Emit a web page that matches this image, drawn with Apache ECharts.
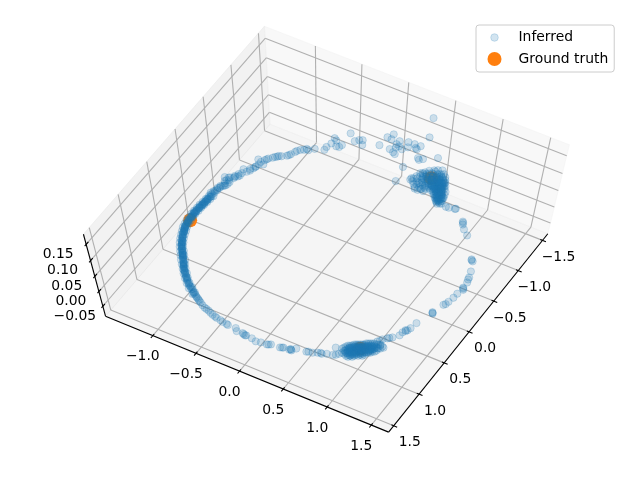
<!DOCTYPE html>
<html><head><meta charset="utf-8">
<style>html,body{margin:0;padding:0;background:#fff}#c{width:640px;height:480px}</style>
<script src="https://cdn.jsdelivr.net/npm/echarts@6/dist/echarts.min.js"></script>
</head><body><div id="c"></div>
<script>
// Axis limits and ticks
const xLim=[-1.61,1.60], yLim=[-1.55,1.695], zLim=[-0.085,0.18];
const xTicks=[-1.5,-1,-0.5,0,0.5,1,1.5];
const yTicks=[-1,-0.5,0,0.5,1,1.5];
const zTicks=[-0.05,0,0.05,0.1,0.15];
const xTickLabels=['\u22121.5','\u22121.0','\u22120.5','0.0','0.5','1.0','1.5'];
const yTickLabels=['\u22121.0','\u22120.5','0.0','0.5','1.0','1.5'];
const zTickLabels=['\u22120.05','0.00','0.05','0.10','0.15'];
const seriesNames=['Inferred','Ground truth'];
const truthPoints=[[0.314,-1.297,0],[1.023,1.03,0],[-1.369,0.449,0]];
// Inferred points, [x,y] near the ring plane (z read as about 0)
const ringHeight=0;
const arcLeft=[[1.208,-.672],[1.19,-.70],[1.175,-.72],[1.167,-.739],[1.15,-.755],[1.13,-.79],[1.125,-.78],[1.11,-.81],[1.094,-.838],[1.08,-.85],[1.07,-.86],[1.05,-.885],[1.04,-.89],[1.02,-.915],[1.0,-.93],[.985,-.945],[.97,-.96],[.96,-.965],[.938,-.985],[.92,-1.0],[.905,-1.01],[.88,-1.03],[.865,-1.04],[.85,-1.05],[.83,-1.065],[.815,-1.075],[.80,-1.085],[.785,-1.095],[.768,-1.108],[.75,-1.12],[.735,-1.13],[.715,-1.15],[.70,-1.16],[.685,-1.165],[.67,-1.18],[.65,-1.19],[.63,-1.20],[.61,-1.21],[.593,-1.222],[.575,-1.23],[.555,-1.24],[.54,-1.245],[.525,-1.25],[.50,-1.265],[.485,-1.27],[.47,-1.27],[.45,-1.28],[.43,-1.29],[.41,-1.295],[.39,-1.30],[.375,-1.30],[.35,-1.305],[.33,-1.31],[.31,-1.31],[.29,-1.31],[.27,-1.315],[.25,-1.31],[.23,-1.32],[.21,-1.315],[.19,-1.32],[.17,-1.31],[.15,-1.315],[.131,-1.312],[.11,-1.31],[.09,-1.31],[.07,-1.31],[.05,-1.305],[.03,-1.31],[.01,-1.30],[-.015,-1.30],[-.037,-1.298],[-.06,-1.30],[-.08,-1.29],[-.10,-1.31],[-.119,-1.324],[-.14,-1.29],[-.16,-1.30],[-.18,-1.285],[-.212,-1.30],[-.239,-1.281],[-.26,-1.27],[-.308,-1.243],[1.2,-.69],[1.16,-.75],[1.10,-.82],[1.03,-.90],[.95,-.975],[.87,-1.035],[.79,-1.09],[.72,-1.14],[.64,-1.195],[.56,-1.235],[.48,-1.265],[.40,-1.295],[.32,-1.315],[.24,-1.305],[.16,-1.32],[.08,-1.30],[.00,-1.305],[-.07,-1.295],[-.15,-1.31],[-.22,-1.285],[.90,-1.02],[.76,-1.115],[.62,-1.205],[.46,-1.275],[.34,-1.30],[.20,-1.31],[.10,-1.32],[.04,-1.30],[-.03,-1.31],[-.11,-1.30],[-.19,-1.295],[-.25,-1.29],[-.28,-1.25]];
const arcLeftOuter=[[1.15,-.74],[1.10,-.80],[1.06,-.855],[1.01,-.905],[.96,-.945],[.91,-.99],[.86,-1.025],[.81,-1.055],[.76,-1.095],[.71,-1.13],[.66,-1.17],[.61,-1.195],[.56,-1.22],[.51,-1.24],[.46,-1.255],[.41,-1.275],[.36,-1.285],[.31,-1.29],[.26,-1.295],[.21,-1.30],[.16,-1.295],[.11,-1.295],[.06,-1.29],[.01,-1.285],[-.04,-1.28],[-.09,-1.275]];
const arcLeftInner=[[1.18,-.75],[1.13,-.82],[1.08,-.875],[1.03,-.925],[.98,-.97],[.93,-1.01],[.88,-1.05],[.83,-1.09],[.78,-1.125],[.73,-1.16],[.68,-1.195],[.63,-1.225],[.58,-1.25],[.53,-1.27],[.48,-1.29],[.43,-1.31],[.38,-1.32],[.33,-1.33],[.28,-1.33],[.23,-1.335],[.18,-1.335],[.13,-1.33],[.08,-1.33],[.03,-1.325],[-.02,-1.32],[-.07,-1.315]];
const arcLeftMiddle=[[.94,-.99],[.85,-1.045],[.77,-1.105],[.69,-1.16],[.60,-1.215],[.52,-1.26],[.44,-1.285],[.36,-1.305],[.28,-1.31],[.20,-1.32],[.12,-1.31],[.06,-1.31],[-.02,-1.30],[1.01,-.92],[.89,-1.025],[.74,-1.125],[.66,-1.185],[.42,-1.29],[.26,-1.315],[.18,-1.31],[.02,-1.305]];
const arcTop=[[-.378,-1.318],[-.409,-1.235],[-.36,-1.26],[-.33,-1.29],[-.40,-1.27],[-.481,-1.222],[-.47,-1.20],[-.44,-1.24],[-.565,-1.215],[-.55,-1.17],[-.625,-1.137],[-.60,-1.16],[-.66,-1.13],[-.721,-1.081],[-.757,-1.16],[-.74,-1.12],[-.70,-1.12],[-.817,-1.081],[-.80,-1.09],[-.884,-1.019],[-.87,-1.035],[-.91,-.985],[-.944,-.942],[-.96,-.93],[-1.052,-.892],[-1.03,-.90],[-1.124,-.822],[-1.10,-.84],[-1.115,-.80],[-1.163,-.755],[-1.199,-.665],[-1.244,-.668],[-.35,-1.28],[-.43,-1.23],[-.51,-1.20],[-.58,-1.15],[-.65,-1.13],[-.78,-1.10],[-.85,-1.05],[-.90,-1.01],[-.98,-.92],[-1.08,-.87],[-.30,-1.27],[-.27,-1.26],[-.34,-1.24],[-.39,-1.28],[-.45,-1.21]];
const arcUpper=[[-1.20,-.55,.045],[-1.12,-.54,.045],[-1.11,-.48,.045],[-1.15,-.44,.045],[-1.115,-.45,.045],[-1.18,-.52,.045],[-1.336,-.45,.045],[-1.26,-.36,.045],[-1.295,-.33,.045],[-1.25,-.27,.045],[-1.31,-.30,.045],[-1.33,-.124,.045],[-1.465,-.112,.045],[-1.531,-.08,.045],[-1.46,-.064,.045],[-1.424,.014,.045],[-1.475,.018,.045],[-1.331,-.01,.045],[-1.295,.067,.045],[-1.31,.04,.045],[-1.388,.092,.045],[-1.506,.10,.045],[-1.511,.165,.045],[-1.46,.218,.045],[-1.47,.20,.045],[-1.515,.23,.045],[-1.579,.306,.12],[-1.554,.297,.07],[-1.453,.458,.045],[-1.357,.29,.045],[-1.369,.339,.045],[-1.34,.31,.045],[-1.177,.226,.045],[-1.16,.167,0],[-1.41,.05,.045],[-1.38,.03,.045],[-1.44,.13,.045]];
const clusterUpperCore=[[-1.48,.42],[-1.50,.45],[-1.52,.49],[-1.43,.44],[-1.447,.474],[-1.465,.507],[-1.48,.53],[-1.386,.453],[-1.405,.486],[-1.42,.511],[-1.434,.537],[-1.449,.562],[-1.345,.465],[-1.36,.49],[-1.374,.516],[-1.389,.541],[-1.403,.566],[-1.413,.583],[-1.31,.486],[-1.324,.511],[-1.333,.528],[-1.348,.553],[-1.357,.57],[-1.372,.595],[-1.273,.507],[-1.283,.524],[-1.297,.549],[-1.307,.566],[-1.317,.583],[-1.331,.608],[-1.341,.625],[-1.242,.537],[-1.257,.562],[-1.271,.587],[-1.285,.612],[-1.30,.637],[-1.206,.558],[-1.221,.583],[-1.23,.60],[-1.24,.616],[-1.254,.642],[-1.269,.667],[-1.175,.587],[-1.189,.612],[-1.199,.629],[-1.213,.654],[-1.228,.679],[-1.144,.616],[-1.158,.642],[-1.173,.667],[-1.187,.692],[-1.113,.646],[-1.127,.671],[-1.141,.696],[-1.081,.675],[-1.096,.70],[-1.105,.717],[-1.29,.57],[-1.31,.60],[-1.32,.56],[-1.335,.59],[-1.26,.60],[-1.275,.625],[-1.25,.58],[-1.29,.595],[-1.225,.62],[-1.24,.60],[-1.21,.63],[-1.23,.65],[-1.19,.64],[-1.18,.62],[-1.20,.66],[-1.16,.65],[-1.15,.67],[-1.17,.69],[-1.125,.69],[-1.11,.68],[-1.35,.53],[-1.37,.56],[-1.385,.58],[-1.40,.52],[-1.355,.60],[-1.32,.62],[-1.30,.58],[-1.28,.56],[-1.26,.545],[-1.10,.66],[-1.135,.63]];
const clusterUpperExtra=[[-1.40,.50],[-1.38,.52],[-1.36,.54],[-1.34,.51],[-1.32,.54],[-1.30,.52],[-1.28,.54],[-1.26,.56],[-1.24,.58],[-1.22,.56],[-1.20,.60],[-1.18,.60],[-1.16,.62],[-1.30,.56],[-1.32,.58],[-1.34,.57],[-1.28,.60],[-1.26,.62],[-1.24,.63],[-1.22,.60],[-1.20,.62],[-1.18,.65],[-1.16,.68],[-1.14,.66],[-1.12,.66],[-1.36,.58],[-1.38,.60],[-1.42,.54],[-1.44,.52],[-1.46,.49],[-1.42,.48],[-1.39,.49],[-1.35,.47],[-1.33,.49],[-1.29,.50],[-1.27,.52],[-1.25,.55],[-1.30,.60],[-1.27,.58],[-1.23,.61],[-1.21,.65],[-1.19,.68],[-1.15,.64],[-1.13,.65],[-1.34,.55]];
const clusterUpperLobe=[[-1.242,.31],[-1.18,.369],[-1.321,.309],[-1.247,.374],[-1.376,.321],[-1.184,.433],[-1.326,.373],[-1.242,.422],[-1.412,.356],[-1.304,.419],[-1.208,.475],[-1.391,.402],[-1.283,.465],[-1.352,.447],[-1.22,.524],[-1.434,.422],[-1.278,.513],[-1.211,.339],[-1.273,.281],[-1.158,.415],[-1.379,.353],[-1.338,.422],[-1.30,.38],[-1.27,.40],[-1.24,.45],[-1.33,.46],[-1.39,.44],[-1.36,.40],[-1.30,.33],[-1.26,.35],[-1.22,.37],[-1.20,.41],[-1.22,.46],[-1.28,.44],[-1.32,.40],[-1.35,.37],[-1.37,.39],[-1.40,.38],[-1.42,.40],[-1.40,.45],[-1.36,.46],[-1.31,.44],[-1.26,.48],[-1.24,.50],[-1.29,.49],[-1.33,.43],[-1.25,.39],[-1.19,.44],[-1.17,.47],[-1.16,.38],[-1.28,.30],[-1.25,.28],[-1.34,.34],[-1.39,.34],[-1.45,.38],[-1.47,.44]];
const arcRight=[[-1.088,.773],[-1.091,.805],[-1.112,.871],[-1.105,.865],[-.989,1.02],[-.953,1.04],[-.975,1.03],[-.898,1.084],[-.84,1.152],[-.571,1.354],[-.56,1.36],[-.552,1.376],[-.422,1.43],[-.341,1.456],[-.312,1.461],[-.271,1.474],[-.179,1.482],[-.19,1.475],[-.165,1.49],[-.09,1.467],[-.023,1.462],[.049,1.448],[.109,1.426],[.09,1.44],[.258,1.39],[.25,1.385],[.265,1.395],[.455,1.325],[.543,1.31],[.582,1.299],[.591,1.282],[.60,1.29],[.63,1.271],[.68,1.267],[.738,1.222],[.774,1.186],[.76,1.20],[.81,1.151],[.858,1.123],[.84,1.14],[.901,1.216],[.88,1.17]];
const clusterLowerCore=[[1.109,.878],[1.157,.906],[1.088,.888],[1.124,.909],[1.16,.93],[1.066,.897],[1.102,.918],[1.138,.939],[1.174,.96],[1.045,.907],[1.081,.928],[1.117,.949],[1.153,.97],[1.177,.984],[1.035,.924],[1.059,.938],[1.095,.959],[1.131,.98],[1.155,.994],[1.025,.941],[1.061,.962],[1.097,.983],[1.133,1.004],[1.157,1.018],[1.004,.951],[1.04,.972],[1.076,.993],[1.10,1.007],[1.136,1.028],[.994,.967],[1.018,.981],[1.054,1.002],[1.09,1.023],[1.114,1.037],[.985,.984],[1.021,1.005],[1.057,1.026],[1.093,1.047],[1.117,1.061],[.975,1.001],[.999,1.015],[1.035,1.036],[1.071,1.057],[1.095,1.071],[.965,1.018],[1.001,1.039],[1.037,1.06],[1.073,1.081],[1.097,1.095],[.956,1.035],[.98,1.049],[1.016,1.07],[1.052,1.091],[1.076,1.105],[.934,1.044],[.97,1.065],[1.006,1.086],[1.042,1.107],[.925,1.061],[.961,1.082],[.997,1.103],[1.033,1.124],[.915,1.078],[.951,1.099],[.987,1.12],[1.023,1.141],[.905,1.095],[.941,1.116],[.977,1.137],[1.001,1.151],[.896,1.112],[.932,1.133],[.956,1.147],[.992,1.168],[.898,1.135],[.934,1.156],[.97,1.177],[.889,1.152],[.937,1.18],[.891,1.176],[.927,1.197],[.893,1.20],[1.05,1.02],[1.03,1.01],[1.065,1.04],[1.08,1.02],[1.01,1.03],[1.12,1.00],[1.10,.97],[.99,1.06],[1.02,1.10],[.96,1.10],[.95,1.07],[.98,1.13],[1.005,1.07],[1.06,1.07],[1.04,1.08]];
const clusterLowerExtra=[[1.00,.99],[1.03,.96],[1.07,.98],[1.11,.99],[1.05,.95],[1.08,.95],[1.13,.96],[1.02,.97],[1.06,1.0],[1.10,1.02],[1.04,1.03],[1.00,1.0],[.97,1.03],[1.01,1.05],[1.05,1.05],[1.08,1.06],[.98,1.07],[1.02,1.08],[.96,1.05],[1.00,1.11],[.97,1.09],[.94,1.09],[1.01,1.12],[.98,1.10],[.95,1.12],[.92,1.12],[.96,1.14],[1.0,1.13],[.93,1.15],[.94,1.17],[1.07,.94],[1.10,.94],[1.12,.92],[1.14,.95],[1.03,.99],[1.06,1.01],[1.09,1.00],[1.12,1.02],[1.15,.99],[1.06,.93],[1.04,1.0],[1.02,1.02],[.99,1.04],[1.03,1.05],[1.0,1.08],[1.04,1.1],[.97,1.12],[.93,1.10],[1.08,.99],[1.11,.97]];
const arcBottom=[[1.127,.819],[1.225,.844],[1.184,.888],[1.211,.869],[1.242,.787],[1.266,.744],[1.26,.73],[1.273,.703],[1.297,.661],[1.304,.62],[1.314,.603],[1.326,.498],[1.371,.446],[1.363,.46],[1.358,.455],[1.37,.47],[1.381,.373],[1.375,.385],[1.39,.355],[1.398,.259],[1.417,.225],[1.41,.24],[1.422,.161],[1.434,.111],[1.417,.057],[1.407,-.039],[1.415,-.02],[1.40,-.055],[1.41,-.01],[1.405,-.119],[1.374,-.148],[1.369,-.253],[1.375,-.235],[1.364,-.301],[1.355,-.33],[1.345,-.379],[1.338,-.40],[1.328,-.434],[1.315,-.465],[1.299,-.496],[1.29,-.525],[1.283,-.55],[1.265,-.585],[1.242,-.619],[1.23,-.64],[1.22,-.655]];
const inferredPoints=[...arcBottom,...arcLeft,...arcLeftOuter,...arcLeftInner,...arcLeftMiddle,...arcTop,...arcUpper,...clusterUpperLobe,...clusterUpperCore,...clusterUpperExtra,...arcRight,...clusterLowerCore,...clusterLowerExtra];

// Matplotlib-style camera
const elev=70*Math.PI/180, azim=30*Math.PI/180, dist=10;
const n=[Math.cos(elev)*Math.cos(azim),Math.cos(elev)*Math.sin(azim),Math.sin(elev)];
const u=[-Math.sin(azim),Math.cos(azim),0];
const v=[-Math.sin(elev)*Math.cos(azim),-Math.sin(elev)*Math.sin(azim),Math.cos(elev)];
const dot=(a,b)=>a[0]*b[0]+a[1]*b[1]+a[2]*b[2];
function project(x,y,z){
  const p=[(x-xLim[0])/(xLim[1]-xLim[0])-.5,(y-yLim[0])/(yLim[1]-yLim[0])-.5,(z-zLim[0])/(zLim[1]-zLim[0])-.5];
  const w=dist-dot(n,p);
  return [dot(u,p)/w,dot(v,p)/w];
}
const scaleX=3390, scaleY=2495, centerX=328, centerY=234;

const [x0,x1]=xLim,[y0,y1]=yLim,[z0,z1]=zLim;
const panes=[
 {c:'rgba(236,236,236,0.5)',p:[[x0,y0,z0],[x1,y0,z0],[x1,y1,z0],[x0,y1,z0]]},
 {c:'rgba(230,230,230,0.5)',p:[[x0,y0,z0],[x1,y0,z0],[x1,y0,z1],[x0,y0,z1]]},
 {c:'rgba(242,242,242,0.5)',p:[[x0,y0,z0],[x0,y1,z0],[x0,y1,z1],[x0,y0,z1]]}
];
const segs=[];
const grid=(a,b)=>segs.push([a,b,'#b0b0b0',1.1]);
const ink=(a,b)=>segs.push([a,b,'#000',1.1]);
xTicks.forEach(x=>{grid([x,y0,z0],[x,y1,z0]);grid([x,y0,z0],[x,y0,z1]);});
yTicks.forEach(y=>{grid([x0,y,z0],[x1,y,z0]);grid([x0,y,z0],[x0,y,z1]);});
zTicks.forEach(z=>{grid([x1,y0,z],[x0,y0,z]);grid([x0,y0,z],[x0,y1,z]);});
ink([x1,y0,z0],[x1,y1,z0]);ink([x1,y1,z0],[x0,y1,z0]);ink([x1,y0,z0],[x1,y0,z1]);
const dx=x1-x0,dy=y1-y0;
xTicks.forEach(x=>ink([x,y1-.008*dy,z0],[x,y1+.012*dy,z0]));
yTicks.forEach(y=>ink([x1-.008*dx,y,z0],[x1+.012*dx,y,z0]));
zTicks.forEach(z=>ink([x1-.012*dx,y0,z],[x1+.008*dx,y0,z]));
const labels=[];
xTicks.forEach((x,i)=>labels.push([[x,y1,z0],xTickLabels[i],16,17]));
yTicks.forEach((y,i)=>labels.push([[x1,y,z0],yTickLabels[i],-10,21]));
zTicks.forEach((z,i)=>labels.push([[x1,y0,z],zTickLabels[i],-28,10]));

const circleIcon=r=>`path://M0,0L0,0M14,14L14,14M${7-r},7A${r},${r},0,1,1,${7+r},7A${r},${r},0,1,1,${7-r},7Z`;
const chart=echarts.init(document.getElementById('c'),null,{renderer:'canvas'});
chart.setOption({
 animation:false,
 backgroundColor:'#fff',
 grid:{left:0,right:0,top:0,bottom:0},
 xAxis:{type:'value',show:false,min:-centerX/scaleX,max:(640-centerX)/scaleX},
 yAxis:{type:'value',show:false,min:(centerY-480)/scaleY,max:centerY/scaleY},
 legend:{
  orient:'vertical',left:476,top:25,width:126,itemWidth:14,itemHeight:14,itemGap:7,
  padding:[5,6,6,11],backgroundColor:'rgba(255,255,255,0.8)',borderColor:'#ccc',borderWidth:1,borderRadius:3,
  textStyle:{fontFamily:'DejaVu Sans',fontSize:13.9,color:'#000',padding:[0,0,0,12]},
  data:[
   {name:seriesNames[0],icon:circleIcon(3.8),itemStyle:{color:'rgba(31,119,180,0.2)',borderColor:'rgba(31,119,180,0.2)',borderWidth:1,opacity:1}},
   {name:seriesNames[1],icon:circleIcon(7),itemStyle:{color:'#ff7f0e',borderWidth:0,opacity:1}}
  ]
 },
 series:[
  {type:'custom',silent:true,z:1,clip:false,data:panes.map((_,i)=>[i]),
   renderItem:(params,api)=>{const P=panes[api.value(0)];
     return {type:'polygon',shape:{points:P.p.map(q=>api.coord(project(...q)))},style:{fill:P.c,stroke:P.c,lineWidth:1}};}},
  {type:'custom',silent:true,z:2,clip:false,data:segs.map((_,i)=>[i]),
   renderItem:(params,api)=>{const S=segs[api.value(0)];const a=api.coord(project(...S[0])),b=api.coord(project(...S[1]));
     return {type:'line',shape:{x1:a[0],y1:a[1],x2:b[0],y2:b[1]},style:{stroke:S[2],lineWidth:S[3]}};}},
  {type:'custom',silent:true,z:3,clip:false,data:labels.map((_,i)=>[i]),
   renderItem:(params,api)=>{const L=labels[api.value(0)];const a=api.coord(project(...L[0]));
     return {type:'text',style:{x:a[0]+L[2],y:a[1]+L[3],text:L[1],fill:'#000',font:'13.9px "DejaVu Sans"',textAlign:'center',textVerticalAlign:'middle'}};}},
  {name:seriesNames[1],type:'scatter',z:4,clip:false,symbolSize:13.9,data:truthPoints.map(p=>project(...p)),
   itemStyle:{color:'#ff7f0e',opacity:1}},
  {name:seriesNames[0],type:'scatter',z:5,clip:false,symbolSize:7.3,large:false,
   data:inferredPoints.map(p=>project(p[0],p[1],p[2]===undefined?ringHeight:p[2])),
   itemStyle:{color:'rgba(31,119,180,0.2)',borderColor:'rgba(31,119,180,0.2)',borderWidth:1,opacity:1}}
 ]
});
</script></body></html>
